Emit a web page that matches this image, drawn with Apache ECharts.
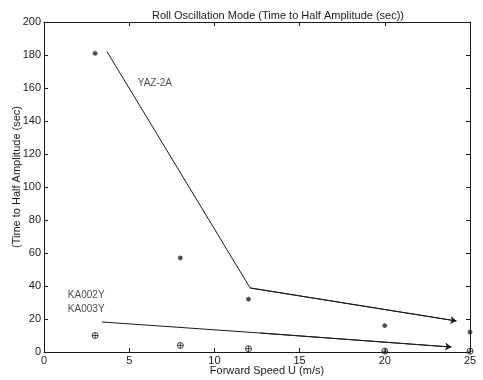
<!DOCTYPE html>
<html>
<head>
<meta charset="utf-8">
<script src="https://cdn.jsdelivr.net/npm/echarts@6/dist/echarts.min.js"></script>
<style>html,body{margin:0;padding:0;background:#fff;}#c{width:483px;height:380px;}</style>
</head>
<body>
<div id="c"></div>
<script>
// Data
const speeds = [3, 8, 12, 20, 25];
const yaz2aPoints = [181, 57, 32, 16, 12];     // stars
const kaPoints = [10, 4, 2, 0.5, 0.5];         // circles
const yazTrendX = [3.7, 12.1, 24.2];
const yazTrendY = [182, 38.8, 18.8];
const kaTrendX = [3.4, 12.7, 23.9];
const kaTrendY = [18.2, 11.5, 3];
const xTicks = [0, 5, 10, 15, 20, 25];
const yTicks = [0, 20, 40, 60, 80, 100, 120, 140, 160, 180, 200];
const annotations = [
  { text: 'YAZ-2A', x: 5.5, y: 163 },
  { text: 'KA002Y', x: 1.4, y: 34.5 },
  { text: 'KA003Y', x: 1.4, y: 26 }
];

const font = 'Liberation Sans, Arial, sans-serif';
const ink = '#1a1a1a';
const pair = (xs, ys) => xs.map((x, i) => [x, ys[i]]);

const starPath = 'path://M0,-5L0,5M-5,0L5,0M-3.5,-3.5L3.5,3.5M-3.5,3.5L3.5,-3.5';
const circPlusPath = 'path://M5,0A5,5,0,1,1,-5,0A5,5,0,1,1,5,0ZM-5,0L5,0M0,-5L0,5';

function trendSeries(xs, ys) {
  const pts = pair(xs, ys);
  const n = pts.length;
  return {
    type: 'line', data: pts, symbol: 'none', silent: true,
    lineStyle: { color: ink, width: 1 },
    markLine: {
      silent: true, symbol: ['none', 'arrow'], symbolSize: 6,
      lineStyle: { color: ink, width: 1, type: 'solid' },
      itemStyle: { color: ink },
      label: { show: false },
      data: [[{ coord: pts[n - 2] }, { coord: pts[n - 1] }]]
    }
  };
}

const baseAxis = {
  axisLine: { show: true, onZero: false, lineStyle: { color: ink, width: 1 } },
  axisTick: { show: true, inside: true, length: 4, lineStyle: { color: ink } },
  splitLine: { show: false },
  axisLabel: { color: ink, fontFamily: font, fontSize: 11 }
};

const chart = echarts.init(document.getElementById('c'));
chart.setOption({
  animation: false,
  backgroundColor: '#fff',
  title: {
    text: 'Roll Oscillation Mode (Time to Half Amplitude (sec))',
    left: 273, top: 5, textAlign: 'center',
    textStyle: { fontFamily: font, fontSize: 11, fontWeight: 'normal', color: ink }
  },
  grid: { left: 44, right: 13, top: 22, bottom: 28, outerBoundsMode: 'none', containLabel: false },
  xAxis: [
    Object.assign({}, baseAxis, {
      type: 'value', min: 0, max: 25, interval: 5, position: 'bottom',
      name: 'Forward Speed U (m/s)', nameLocation: 'middle', nameGap: 13, nameMoveOverlap: false,
      nameTextStyle: { fontFamily: font, fontSize: 11, color: ink, padding: [0, 0, 0, 20] },
      axisLabel: Object.assign({}, baseAxis.axisLabel, { margin: 3,
        formatter: v => xTicks.includes(v) ? String(v) : '' })
    }),
    Object.assign({}, baseAxis, {
      type: 'value', min: 0, max: 25, interval: 5, position: 'top',
      axisLabel: { show: false }
    })
  ],
  yAxis: [
    Object.assign({}, baseAxis, {
      type: 'value', min: 0, max: 200, interval: 20, position: 'left',
      name: '(Time to Half Amplitude (sec)', nameLocation: 'middle', nameGap: 22, nameMoveOverlap: false,
      nameTextStyle: { fontFamily: font, fontSize: 11, color: ink, padding: [0, 0, 0, 20] },
      axisLabel: Object.assign({}, baseAxis.axisLabel, { margin: 3,
        formatter: v => yTicks.includes(v) ? String(v) : '' })
    }),
    Object.assign({}, baseAxis, {
      type: 'value', min: 0, max: 200, interval: 20, position: 'right',
      axisLabel: { show: false }
    })
  ],
  series: [
    trendSeries(yazTrendX, yazTrendY),
    trendSeries(kaTrendX, kaTrendY),
    {
      type: 'scatter', data: pair(speeds, yaz2aPoints), symbol: starPath, symbolSize: 5,
      itemStyle: { color: 'none', borderColor: ink, borderWidth: 1.2 }
    },
    {
      type: 'scatter', data: pair(speeds, kaPoints), symbol: circPlusPath, symbolSize: 6,
      itemStyle: { color: 'none', borderColor: ink, borderWidth: 1 }
    },
    {
      type: 'scatter', symbolSize: 0, silent: true,
      data: annotations.map(a => ({ value: [a.x, a.y], name: a.text })),
      label: {
        show: true, position: 'right', distance: 0, formatter: p => p.name,
        fontFamily: font, fontSize: 10, color: ink
      }
    }
  ]
});
</script>
</body>
</html>
